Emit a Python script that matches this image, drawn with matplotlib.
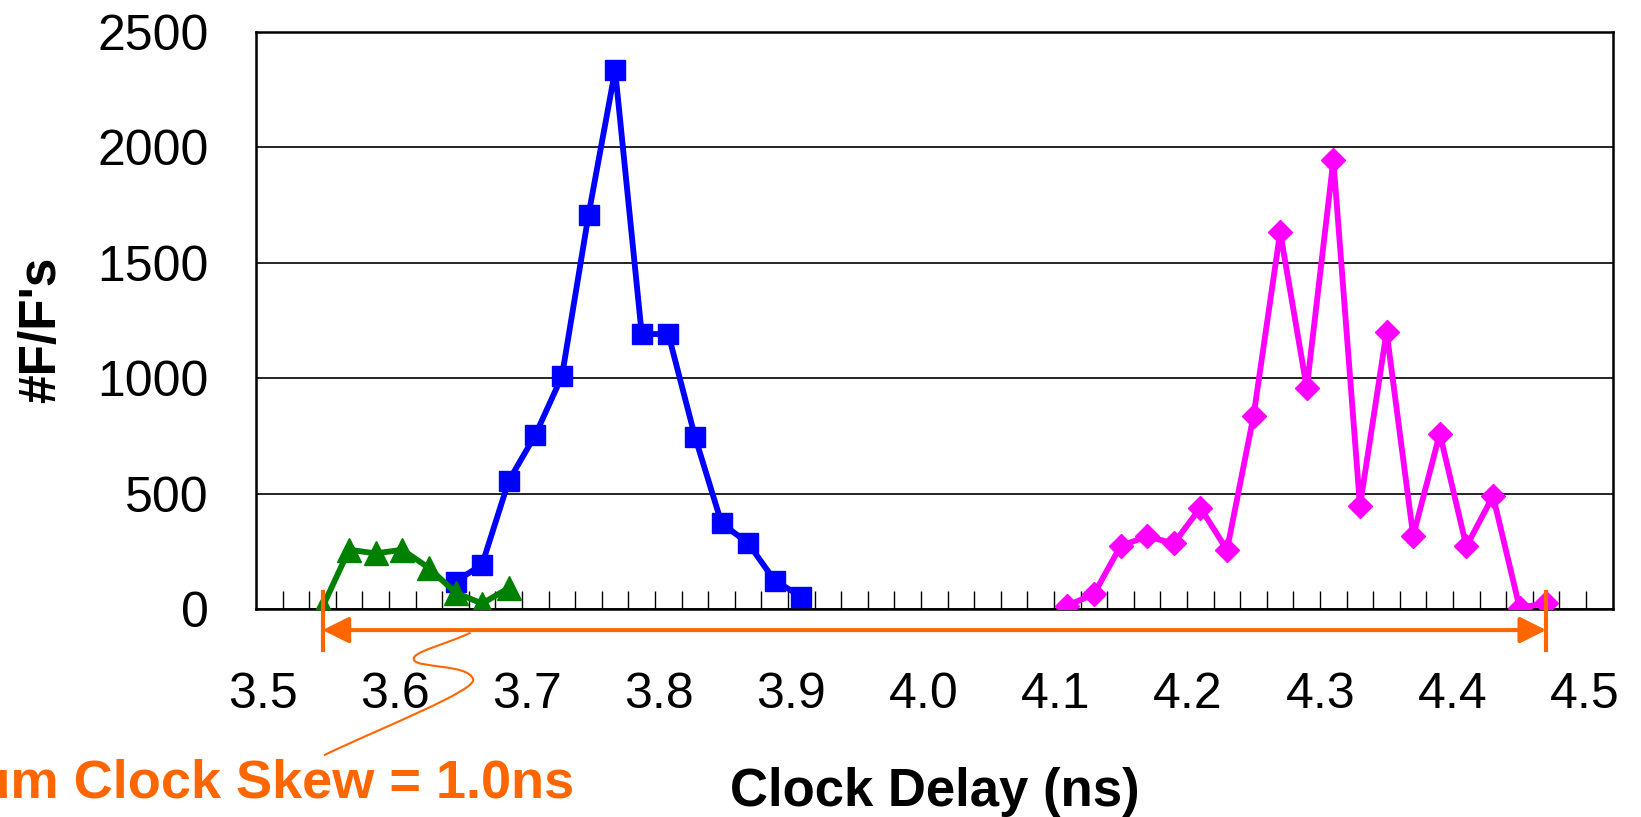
import numpy as np
import matplotlib
matplotlib.use("Agg")
import matplotlib.pyplot as plt
from matplotlib.path import Path
from matplotlib.patches import PathPatch

# flip-flop counts per 0.02 ns clock-delay bin
GREEN_X = [3.54, 3.56, 3.58, 3.60, 3.62, 3.64, 3.66, 3.68]
GREEN_Y = [10, 258, 242, 258, 179, 72, 25, 92]

BLUE_X = [3.64, 3.66, 3.68, 3.70, 3.72, 3.74, 3.76, 3.78, 3.80, 3.82,
          3.84, 3.86, 3.88, 3.90]
BLUE_Y = [120, 194, 556, 755, 1009, 1708, 2334, 1192, 1192, 748,
          373, 286, 124, 55]

MAGENTA_X = [4.10, 4.12, 4.14, 4.16, 4.18, 4.20, 4.22, 4.24, 4.26, 4.28,
             4.30, 4.32, 4.34, 4.36, 4.38, 4.40, 4.42, 4.44, 4.46]
MAGENTA_Y = [16, 66, 274, 316, 285, 440, 257, 838, 1634, 958,
             1945, 448, 1202, 318, 761, 272, 491, 7, 26]

BIN_EDGES = [3.51, 3.53, 3.55, 3.57, 3.59, 3.61, 3.63, 3.65, 3.67, 3.69,
             3.71, 3.73, 3.75, 3.77, 3.79, 3.81, 3.83, 3.85, 3.87, 3.89,
             3.91, 3.93, 3.95, 3.97, 3.99, 4.01, 4.03, 4.05, 4.07, 4.09,
             4.11, 4.13, 4.15, 4.17, 4.19, 4.21, 4.23, 4.25, 4.27, 4.29,
             4.31, 4.33, 4.35, 4.37, 4.39, 4.41, 4.43, 4.45, 4.47, 4.49]
X_LABELS = ["3.5", "3.6", "3.7", "3.8", "3.9", "4.0", "4.1", "4.2", "4.3", "4.4", "4.5"]
Y_TICKS = [0, 500, 1000, 1500, 2000, 2500]

SKEW_START, SKEW_END = 3.54, 4.46
SKEW_TEXT = "Maximum Clock Skew = 1.0ns"

ORANGE = "#FF6600"
W, H = 1641, 817

plt.rcParams.update({"font.family": ["Liberation Sans", "DejaVu Sans"]})
fig = plt.figure(figsize=(W / 100, H / 100), dpi=100)
ax = fig.add_axes([256 / W, (H - 609.3) / H, 1356.7 / W, 577.3 / H])

ax.plot(BLUE_X, BLUE_Y, color="#0000FF", lw=4.2, marker="s", ms=14.5,
        mec="#0000FF", zorder=3)
ax.plot(GREEN_X, GREEN_Y, color="#008000", lw=4.2, marker="^", ms=17,
        mec="#008000", zorder=4)
ax.plot(MAGENTA_X, MAGENTA_Y, color="#FF00FF", lw=4.2, marker="D", ms=12,
        mec="#FF00FF", zorder=3)

ax.set_xlim(3.49, 4.51)
ax.set_ylim(0, 2500)
ax.set_yticks(Y_TICKS)
ax.grid(axis="y", color="black", lw=1.2)
ax.set_axisbelow(True)
for s in ax.spines.values():
    s.set_linewidth(1.8)

# the value labels on the slide were placed by hand, slightly compressed
ax.set_xticks(np.linspace(3.495, 4.489, len(X_LABELS)), X_LABELS)
ax.set_xticks(BIN_EDGES, minor=True)
ax.tick_params(axis="x", which="major", length=0, pad=45, labelsize=36)
ax.tick_params(axis="x", which="minor", direction="in", length=12.7, width=1)
ax.tick_params(axis="y", length=0, pad=34, labelsize=36)

ax.set_xlabel("Clock Delay (ns)", fontsize=38, fontweight="bold")
ax.xaxis.set_label_coords(0.5, -0.273)
ax.set_ylabel("#F/F's", fontsize=37, fontweight="bold", va="center")
ax.yaxis.set_label_coords(-0.1577, 0.4846)

# skew arrow below the axis
ax.annotate("", xy=(SKEW_START, -90), xytext=(SKEW_END, -90),
            arrowprops=dict(arrowstyle="<|-|>", color=ORANGE, lw=2.9,
                            shrinkA=0, shrinkB=0, mutation_scale=40),
            annotation_clip=False, zorder=6)
for xb in (SKEW_START, SKEW_END):
    ax.plot([xb, xb], [75, -176], color=ORANGE, lw=3, clip_on=False, zorder=6)

verts = [(3.6513, -101), (3.6321, -155), (3.6058, -185), (3.6088, -220),
         (3.6118, -255), (3.6494, -237), (3.6532, -302),
         (3.6569, -350), (3.5832, -515), (3.5411, -632)]
codes = [Path.MOVETO] + [Path.CURVE4] * 9
ax.add_patch(PathPatch(Path(verts, codes), fill=False, ec=ORANGE, lw=1.5,
                       clip_on=False, zorder=6))

# the slide cuts this label off at its left edge
fig.text(574 / W, (H - 797.3) / H, SKEW_TEXT, color=ORANGE, fontsize=39,
         fontweight="bold", ha="right", va="baseline")

fig.savefig("out.png", dpi=100)
